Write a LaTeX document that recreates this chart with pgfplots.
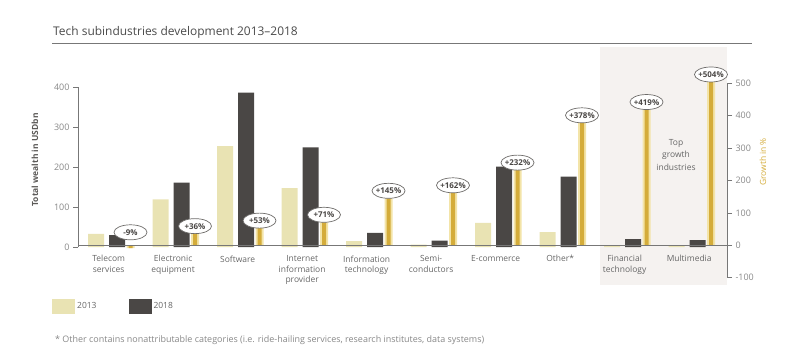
\documentclass[border=0pt]{standalone}
\usepackage{fontspec}
\setmainfont{Open Sans}
\usepackage{pgfplots}
\usepackage{pgfplotstable}
\pgfplotsset{compat=1.18}
\usetikzlibrary{shapes.geometric}
\definecolor{c13}{HTML}{E9E3B3}
\definecolor{c18}{HTML}{4A4745}
\definecolor{gold}{HTML}{D4AC3A}
\definecolor{goldlt}{HTML}{F3E4A8}
\definecolor{txt}{HTML}{666666}
\definecolor{titletxt}{HTML}{4A4A4A}
\definecolor{tick}{HTML}{888888}
\definecolor{axgray}{HTML}{777777}
\definecolor{bgshade}{HTML}{F5F2F0}
\pgfplotstableread{
x y13 y18 g ly
0 33 30 -9 17
1 119 161 36 36
2 252 386 53 53
3 147 249 71 71
4 14.5 35.5 145 145
5 6 16 162 162
6 60.5 201 232 232
7 37 176 378 378
8 3.9 20 419 419
9 2.9 17.5 504 504
}\datatable
\begin{document}
\begin{tikzpicture}[x=1bp,y=1bp]
\path[use as bounding box] (0,0) rectangle (800,354);
% title
\node[anchor=base west, inner sep=0pt, text=titletxt, font=\fontsize{12}{14}\selectfont] at (53,319) {Tech subindustries development 2013–2018};
\draw[axgray, line width=0.9bp] (52,311) -- (752,311);
% shaded region
\fill[bgshade] (600,69) rectangle (727,307);
\node[align=center, text=txt, font=\fontsize{8.5}{12.5}\selectfont] at (676,199) {Top\\growth\\industries};
% footnote
\node[anchor=base west, inner sep=0pt, text=tick, font=\fontsize{9}{10}\selectfont] at (55,12) {* Other contains nonattributable categories (i.e. ride-hailing services, research institutes, data systems)};
\begin{axis}[
  at={(78bp,76.3bp)}, anchor=south west, scale only axis,
  width=649bp, height=200.9bp,
  xmin=-0.605, xmax=9.457, ymin=-76.75, ymax=425.5,
  axis line style={draw=none}, clip=false,
  ytick={0,100,200,300,400}, ytick pos=left, tick align=outside,
  major tick length=5bp,
  every tick/.style={axgray, line width=0.7bp},
  yticklabel style={font=\fontsize{9}{10}\selectfont, text=tick},
  /pgf/number format/assume math mode=true,
  xtick={-0.13,0.87,1.87,2.87,3.87,4.87,5.87,6.87,7.87,8.87},
  xticklabels={Telecom\\services, Electronic\\equipment, Software, Internet\\information\\provider, Information\\technology, Semi-\\conductors, E-commerce, Other*, Financial\\technology, Multimedia},
  xtick style={draw=none},
  xticklabel style={align=center, text=txt, font=\fontsize{8.5}{10.5}\selectfont, yshift=30.7bp, anchor=north},
  ylabel={Total wealth in USDbn},
  ylabel style={at={(rel axis cs:-0.0663,0.586)}, anchor=center, font=\bfseries\fontsize{8.5}{10}\selectfont, text=c18!90},
  legend style={at={(rel axis cs:-0.0401,-0.1434)}, anchor=west, draw=none, fill=none, inner sep=0pt, legend columns=2, font=\fontsize{8.5}{10}\selectfont, text=txt, /tikz/every even column/.append style={column sep=30bp}},
]
\addplot[ybar, bar width=16bp, bar shift=-21bp, fill=c13, draw=none,
  legend image code/.code={\fill[c13] (0bp,-7.5bp) rectangle (23bp,7.5bp);}] table[x=x,y=y13] {\datatable};
\addlegendentry{2013}
\addplot[ybar, bar width=16bp, bar shift=0bp, fill=c18, draw=none,
  legend image code/.code={\fill[c18] (0bp,-7.5bp) rectangle (23bp,7.5bp);}] table[x=x,y=y18] {\datatable};
\addlegendentry{2018}
\draw[axgray, line width=0.8bp] (axis cs:-0.605,0) -- (axis cs:-0.605,400);
\end{axis}
\begin{axis}[
  at={(78bp,76.3bp)}, anchor=south west, scale only axis,
  width=649bp, height=200.9bp,
  xmin=-0.605, xmax=9.457, ymin=-100, ymax=520,
  axis line style={draw=none}, clip=false,
  xtick=\empty,
  ytick={-100,0,100,200,300,400,500}, ytick pos=right, yticklabel pos=right, tick align=outside,
  major tick length=5bp,
  every tick/.style={axgray, line width=0.7bp},
  yticklabel style={font=\fontsize{9}{10}\selectfont, text=tick},
  /pgf/number format/assume math mode=true,
  ylabel={Growth in \%},
  ylabel style={at={(rel axis cs:1.0555,0.576)}, anchor=center, font=\fontsize{8.5}{10}\selectfont, text=gold},
]
\addplot[ybar, bar width=8bp, bar shift=13.5bp, fill=goldlt, draw=none] table[x=x,y=g] {\datatable};
\addplot[ybar, bar width=4bp, bar shift=13.5bp, fill=gold, draw=none] table[x=x,y=g] {\datatable};
\draw[axgray, line width=0.8bp] (axis cs:-0.605,0) -- (axis cs:9.457,0);
\draw[axgray, line width=0.8bp] (axis cs:9.457,-100) -- (axis cs:9.457,500);
\addplot[ybar, bar width=4bp, bar shift=0bp, draw=none, fill=none,
  point meta=explicit,
  nodes near coords={\pgfmathprintnumber[print sign, assume math mode=true]{\pgfplotspointmeta}\%},
  nodes near coords align=vertical,
  every node near coord/.append style={ellipse, draw=c18!80, line width=0.7bp, fill=white, inner xsep=-1bp, inner ysep=0.8bp, minimum width=33bp, minimum height=15bp, text height=6bp, text depth=0bp, font=\bfseries\fontsize{8}{9}\selectfont, text=c18, anchor=south, outer sep=0pt}
] table[x expr=\thisrow{x}+0.209,y=ly,meta=g] {\datatable};
\end{axis}
\end{tikzpicture}
\end{document}
